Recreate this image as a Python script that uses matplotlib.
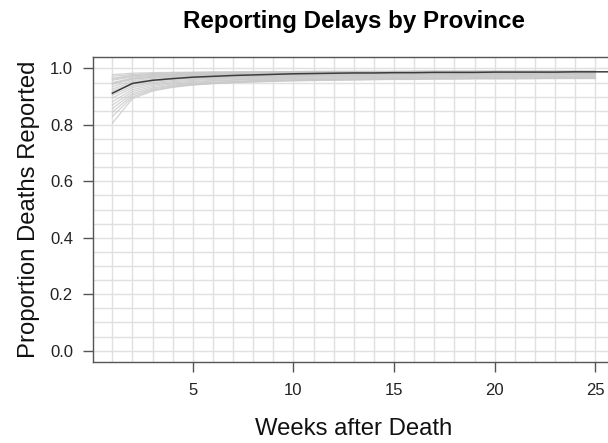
import numpy as np
import matplotlib.pyplot as plt

plt.rcParams['font.family'] = ['Liberation Sans', 'DejaVu Sans']

# weeks since death
weeks = np.arange(1, 26)
weeks_national = np.arange(1, 27)

# national cumulative proportion reported
national = [0.912, 0.947, 0.958, 0.964, 0.969, 0.972, 0.975, 0.977, 0.979, 0.981,
            0.982, 0.983, 0.984, 0.984, 0.985, 0.985, 0.986, 0.986, 0.986, 0.987,
            0.987, 0.987, 0.987, 0.988, 0.988, 0.988]

# one curve per province
provinces = [
    [0.978, 0.983, 0.985, 0.986, 0.987, 0.988, 0.988, 0.989, 0.989, 0.989, 0.990, 0.990, 0.990,
     0.990, 0.990, 0.991, 0.991, 0.991, 0.991, 0.991, 0.991, 0.991, 0.991, 0.991, 0.991],
    [0.972, 0.979, 0.982, 0.984, 0.985, 0.986, 0.987, 0.987, 0.988, 0.988, 0.988, 0.989, 0.989,
     0.989, 0.989, 0.989, 0.990, 0.990, 0.990, 0.990, 0.990, 0.990, 0.990, 0.990, 0.990],
    [0.965, 0.975, 0.979, 0.981, 0.983, 0.984, 0.985, 0.985, 0.986, 0.986, 0.987, 0.987, 0.987,
     0.988, 0.988, 0.988, 0.988, 0.988, 0.988, 0.989, 0.989, 0.989, 0.989, 0.989, 0.989],
    [0.958, 0.970, 0.975, 0.978, 0.980, 0.981, 0.982, 0.983, 0.984, 0.984, 0.985, 0.985, 0.986,
     0.986, 0.986, 0.986, 0.987, 0.987, 0.987, 0.987, 0.987, 0.987, 0.987, 0.988, 0.988],
    [0.950, 0.966, 0.972, 0.975, 0.977, 0.979, 0.980, 0.981, 0.982, 0.983, 0.983, 0.984, 0.984,
     0.984, 0.985, 0.985, 0.985, 0.985, 0.986, 0.986, 0.986, 0.986, 0.986, 0.986, 0.986],
    [0.943, 0.962, 0.969, 0.972, 0.975, 0.976, 0.978, 0.979, 0.980, 0.981, 0.981, 0.982, 0.982,
     0.983, 0.983, 0.983, 0.984, 0.984, 0.984, 0.984, 0.984, 0.985, 0.985, 0.985, 0.985],
    [0.935, 0.957, 0.965, 0.969, 0.972, 0.974, 0.975, 0.977, 0.978, 0.978, 0.979, 0.980, 0.980,
     0.981, 0.981, 0.981, 0.982, 0.982, 0.982, 0.982, 0.983, 0.983, 0.983, 0.983, 0.983],
    [0.927, 0.952, 0.961, 0.966, 0.969, 0.971, 0.973, 0.974, 0.975, 0.976, 0.977, 0.978, 0.978,
     0.979, 0.979, 0.980, 0.980, 0.980, 0.981, 0.981, 0.981, 0.981, 0.981, 0.982, 0.982],
    [0.920, 0.947, 0.957, 0.962, 0.966, 0.968, 0.970, 0.972, 0.973, 0.974, 0.975, 0.976, 0.976,
     0.977, 0.977, 0.978, 0.978, 0.978, 0.979, 0.979, 0.979, 0.979, 0.980, 0.980, 0.980],
    [0.905, 0.938, 0.950, 0.957, 0.961, 0.964, 0.966, 0.968, 0.969, 0.971, 0.972, 0.972, 0.973,
     0.974, 0.974, 0.975, 0.975, 0.975, 0.976, 0.976, 0.976, 0.976, 0.977, 0.977, 0.977],
    [0.895, 0.932, 0.946, 0.953, 0.958, 0.961, 0.963, 0.965, 0.967, 0.968, 0.969, 0.970, 0.971,
     0.971, 0.972, 0.972, 0.973, 0.973, 0.973, 0.974, 0.974, 0.974, 0.974, 0.974, 0.975],
    [0.882, 0.925, 0.941, 0.949, 0.954, 0.957, 0.960, 0.962, 0.964, 0.965, 0.966, 0.967, 0.968,
     0.969, 0.969, 0.970, 0.970, 0.971, 0.971, 0.971, 0.972, 0.972, 0.972, 0.972, 0.972],
    [0.870, 0.918, 0.936, 0.945, 0.951, 0.955, 0.958, 0.960, 0.962, 0.963, 0.964, 0.965, 0.966,
     0.967, 0.967, 0.968, 0.968, 0.969, 0.969, 0.969, 0.970, 0.970, 0.970, 0.970, 0.970],
    [0.858, 0.911, 0.931, 0.941, 0.947, 0.951, 0.954, 0.957, 0.959, 0.960, 0.961, 0.962, 0.963,
     0.964, 0.965, 0.965, 0.966, 0.966, 0.967, 0.967, 0.967, 0.967, 0.968, 0.968, 0.968],
    [0.845, 0.905, 0.927, 0.938, 0.945, 0.949, 0.952, 0.955, 0.957, 0.958, 0.960, 0.961, 0.962,
     0.962, 0.963, 0.964, 0.964, 0.965, 0.965, 0.965, 0.966, 0.966, 0.966, 0.966, 0.966],
    [0.830, 0.899, 0.923, 0.935, 0.942, 0.947, 0.950, 0.953, 0.955, 0.957, 0.958, 0.959, 0.960,
     0.961, 0.962, 0.962, 0.963, 0.963, 0.964, 0.964, 0.964, 0.964, 0.965, 0.965, 0.965],
    [0.806, 0.893, 0.920, 0.933, 0.941, 0.946, 0.950, 0.952, 0.954, 0.956, 0.957, 0.958, 0.959,
     0.960, 0.961, 0.961, 0.962, 0.962, 0.963, 0.963, 0.963, 0.964, 0.964, 0.964, 0.964],
    [0.962, 0.974, 0.978, 0.980, 0.982, 0.983, 0.984, 0.985, 0.985, 0.986, 0.986, 0.986, 0.987,
     0.987, 0.987, 0.987, 0.988, 0.988, 0.988, 0.988, 0.988, 0.988, 0.988, 0.988, 0.988],
    [0.947, 0.963, 0.970, 0.974, 0.976, 0.978, 0.979, 0.980, 0.981, 0.982, 0.982, 0.983, 0.983,
     0.984, 0.984, 0.984, 0.984, 0.985, 0.985, 0.985, 0.985, 0.985, 0.985, 0.986, 0.986],
    [0.915, 0.944, 0.955, 0.961, 0.965, 0.967, 0.969, 0.971, 0.972, 0.973, 0.974, 0.975, 0.976,
     0.976, 0.977, 0.977, 0.977, 0.978, 0.978, 0.978, 0.978, 0.979, 0.979, 0.979, 0.979],
]

fig = plt.figure(figsize=(6.08, 4.43), dpi=100)
ax = fig.add_axes([0.153, 0.183, 0.858, 0.688])

ax.set_xlim(0.04, 25.96)
ax.set_ylim(-0.04, 1.04)

# background grid: every week and every 0.05
for x in np.arange(1, 27):
    ax.axvline(x, color='#e0e0e0', lw=1.0, zorder=0)
for y in np.arange(0, 1.0001, 0.05):
    ax.axhline(y, color='#e0e0e0', lw=1.0, zorder=0)

for p in provinces:
    ax.plot(weeks, p, color='#c8c8c8', lw=0.9, alpha=0.8, zorder=2)
ax.plot(weeks_national, national, color='#3c3c3c', lw=1.1, zorder=3)

ax.set_xticks([5, 10, 15, 20, 25])
ax.set_yticks([0.0, 0.2, 0.4, 0.6, 0.8, 1.0])
ax.set_yticklabels(['0.0', '0.2', '0.4', '0.6', '0.8', '1.0'])
ax.tick_params(length=7.5, width=1.0, color='#555555', labelsize=12, labelcolor='#222222')
ax.tick_params(axis='y', pad=7)
ax.tick_params(axis='x', pad=8)
for s in ['left', 'bottom', 'top', 'right']:
    ax.spines[s].set_color('#555555')
    ax.spines[s].set_linewidth(1.0)

ax.set_xlabel('Weeks after Death', fontsize=17.2, labelpad=14, color='#111111')
ax.set_ylabel('Proportion Deaths Reported', fontsize=17.2, labelpad=7, color='#111111')
ax.set_title('Reporting Delays by Province', fontsize=17.4, fontweight='bold', pad=21)

fig.savefig('out.png', dpi=100)
